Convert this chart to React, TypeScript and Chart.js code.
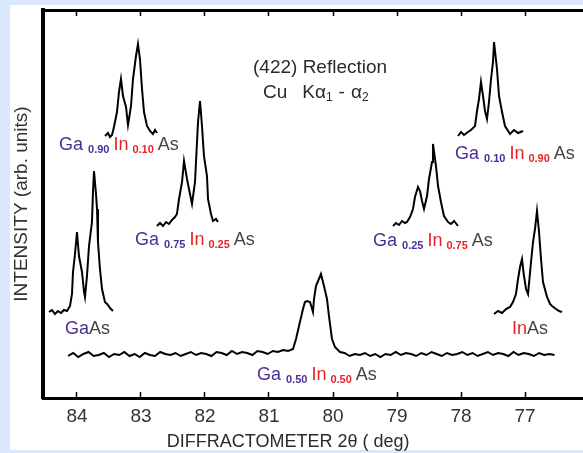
import React, { useEffect, useRef } from "react";
import { Chart, registerables } from "chart.js";

Chart.register(...registerables);

// ---------- data (2θ in degrees, intensity in arbitrary units) ----------
const xTickValues = [84, 83, 82, 81, 80, 79, 78, 77];

const gaAsTheta = [84.437, 84.391, 84.344, 84.297, 84.25, 84.203, 84.156, 84.109, 84.078, 84.062, 84.031, 84.0, 83.969, 83.922, 83.891, 83.875, 83.844, 83.812, 83.766, 83.75, 83.734, 83.703, 83.687, 83.672, 83.641, 83.609, 83.563, 83.516, 83.484, 83.438];
const gaAsCounts = [86, 88, 84, 87, 85, 88, 87, 92, 104, 126, 144, 166, 142, 126, 107, 101, 122, 152, 176, 206, 227, 204, 189, 156, 129, 109, 96, 93, 90, 87];

const ga90Theta = [83.562, 83.516, 83.484, 83.453, 83.422, 83.375, 83.344, 83.313, 83.281, 83.234, 83.203, 83.188, 83.156, 83.125, 83.078, 83.047, 83.016, 82.984, 82.953, 82.906, 82.859, 82.813, 82.781, 82.75];
const ga90Counts = [262, 265, 261, 263, 271, 286, 306, 319, 302, 291, 273, 279, 292, 319, 342, 354, 339, 309, 286, 272, 267, 264, 268, 265];

const ga75Theta = [82.75, 82.703, 82.656, 82.609, 82.563, 82.516, 82.469, 82.438, 82.406, 82.359, 82.328, 82.281, 82.25, 82.203, 82.156, 82.125, 82.109, 82.078, 82.047, 82.016, 81.969, 81.953, 81.906, 81.875, 81.828, 81.797];
const ga75Counts = [172, 175, 172, 176, 174, 178, 181, 184, 199, 216, 237, 219, 209, 194, 216, 256, 276, 297, 272, 242, 222, 199, 184, 177, 179, 176];

const ga50Theta = [
  84.14, 84.06, 83.98, 83.9, 83.82, 83.74, 83.66, 83.58, 83.5, 83.42, 83.34, 83.26, 83.18, 83.1, 83.02, 82.94, 82.86, 82.78, 82.7, 82.62, 82.54, 82.46,
  82.38, 82.3, 82.22, 82.14, 82.06, 81.98, 81.9, 81.82, 81.74, 81.66, 81.58, 81.5, 81.42, 81.34, 81.26, 81.18, 81.1, 81.02, 80.94, 80.86, 80.78, 80.7,
  80.625, 80.578, 80.531, 80.469, 80.438, 80.406, 80.359, 80.313, 80.297, 80.266, 80.188, 80.141, 80.094, 80.063, 80.016, 79.969, 79.891,
  79.82, 79.74, 79.66, 79.58, 79.5, 79.42, 79.34, 79.26, 79.18, 79.1, 79.02, 78.94, 78.86, 78.78, 78.7, 78.62, 78.54, 78.46, 78.38, 78.3, 78.22,
  78.14, 78.06, 77.98, 77.9, 77.82, 77.74, 77.66, 77.58, 77.5, 77.42, 77.34, 77.26, 77.18, 77.1, 77.02, 76.94, 76.86, 76.78, 76.7, 76.62, 76.54,
];
const ga50Counts = [
  42, 45, 41, 44, 46, 42, 43, 45, 41, 44, 43, 46, 42, 44, 41, 45, 43, 42, 46, 44, 43, 45,
  42, 44, 46, 43, 45, 44, 42, 46, 45, 43, 47, 44, 46, 45, 43, 47, 46, 44, 47, 46, 48, 47,
  49, 59, 72, 89, 96, 97, 96, 86, 99, 112, 124, 112, 99, 82, 59, 51, 46,
  45, 42, 44, 43, 45, 42, 44, 41, 44, 43, 46, 43, 45, 44, 42, 45, 43, 46, 44, 42, 45,
  43, 44, 46, 43, 45, 42, 44, 46, 43, 45, 44, 42, 46, 43, 45, 44, 42, 45, 43, 44, 43,
];

const ga25Theta = [79.062, 79.016, 78.969, 78.922, 78.875, 78.844, 78.797, 78.75, 78.719, 78.672, 78.641, 78.609, 78.578, 78.531, 78.5, 78.453, 78.438, 78.391, 78.359, 78.313, 78.266, 78.203, 78.156, 78.109, 78.047];
const ga25Counts = [172, 175, 173, 177, 175, 176, 181, 189, 201, 211, 207, 197, 189, 202, 219, 236, 254, 232, 212, 196, 182, 176, 174, 177, 172];

const ga10Theta = [78.047, 78.0, 77.953, 77.891, 77.844, 77.781, 77.75, 77.719, 77.688, 77.656, 77.625, 77.594, 77.563, 77.531, 77.5, 77.484, 77.438, 77.406, 77.359, 77.313, 77.234, 77.172, 77.109, 77.031];
const ga10Counts = [262, 266, 263, 266, 268, 272, 287, 299, 316, 302, 287, 279, 296, 319, 336, 356, 329, 302, 286, 272, 264, 268, 265, 267];

const inAsTheta = [77.484, 77.422, 77.359, 77.297, 77.234, 77.188, 77.141, 77.109, 77.078, 77.047, 77.016, 76.984, 76.953, 76.906, 76.875, 76.844, 76.813, 76.781, 76.75, 76.719, 76.656, 76.609, 76.578, 76.516, 76.469, 76.422];
const inAsCounts = [84, 87, 85, 89, 91, 96, 104, 119, 131, 139, 122, 109, 104, 136, 156, 169, 187, 166, 139, 116, 101, 94, 92, 89, 87, 86];

const patterns = [
  { theta: gaAsTheta, counts: gaAsCounts },
  { theta: ga90Theta, counts: ga90Counts },
  { theta: ga75Theta, counts: ga75Counts },
  { theta: ga50Theta, counts: ga50Counts },
  { theta: ga25Theta, counts: ga25Counts },
  { theta: ga10Theta, counts: ga10Counts },
  { theta: inAsTheta, counts: inAsCounts },
];

// ---------- styling ----------
const FONT = '"Liberation Sans", Arial, Helvetica, sans-serif';
const GA = "#4b2f96";
const IN = "#e3242b";
const AS = "#444444";
const TEXT = "#2b2b2b";

type Seg = { t: string; c: string; sub?: boolean; dx?: number };

const alloy = (ga: string, inn: string): Seg[] => [
  { t: "Ga", c: GA },
  { t: ga, c: GA, sub: true, dx: 5 },
  { t: "In", c: IN, dx: 4 },
  { t: inn, c: IN, sub: true, dx: 4 },
  { t: "As", c: AS, dx: 4 },
];

const compoundLabels: { theta: number; inten: number; segs: Seg[] }[] = [
  { theta: 84.281, inten: 248, segs: alloy("0.90", "0.10") },
  { theta: 84.188, inten: 64, segs: [{ t: "Ga", c: GA }, { t: "As", c: AS }] },
  { theta: 83.094, inten: 153, segs: alloy("0.75", "0.25") },
  { theta: 81.188, inten: 18, segs: alloy("0.50", "0.50") },
  { theta: 79.375, inten: 152, segs: alloy("0.25", "0.75") },
  { theta: 78.094, inten: 239, segs: alloy("0.10", "0.90") },
  { theta: 77.203, inten: 64, segs: [{ t: "In", c: IN }, { t: "As", c: AS }] },
];

const titleLines: { theta: number; inten: number; segs: Seg[] }[] = [
  { theta: 81.25, inten: 325, segs: [{ t: "(422) Reflection", c: TEXT }] },
  {
    theta: 81.094,
    inten: 300,
    segs: [
      { t: "Cu", c: TEXT },
      { t: "Kα", c: TEXT, dx: 15 },
      { t: "1", c: TEXT, sub: true },
      { t: "-", c: TEXT, dx: 6 },
      { t: "α", c: TEXT, dx: 6 },
      { t: "2", c: TEXT, sub: true },
    ],
  },
];

const xTitle = { text: "DIFFRACTOMETER 2θ ( deg)", theta: 80.7 };

function drawSegs(ctx: CanvasRenderingContext2D, segs: Seg[], x0: number, y0: number, main: number, sub: string) {
  let x = x0;
  for (const s of segs) {
    x += s.dx ?? 0;
    ctx.font = s.sub ? sub : `${main}px ${FONT}`;
    ctx.fillStyle = s.c;
    ctx.fillText(s.t, x, y0 + (s.sub ? 3 : 0));
    x += ctx.measureText(s.t).width;
  }
}

const annotPlugin = {
  id: "annot",
  afterDraw(chart: any) {
    const { ctx } = chart;
    const xs = chart.scales.x;
    const ys = chart.scales.y;
    ctx.save();
    ctx.textBaseline = "alphabetic";
    ctx.textAlign = "left";
    for (const l of compoundLabels) {
      drawSegs(ctx, l.segs, xs.getPixelForValue(l.theta), ys.getPixelForValue(l.inten), 18, `bold 11px ${FONT}`);
    }
    for (const l of titleLines) {
      drawSegs(ctx, l.segs, xs.getPixelForValue(l.theta), ys.getPixelForValue(l.inten), 19, `12px ${FONT}`);
    }
    ctx.font = `18px ${FONT}`;
    ctx.fillStyle = TEXT;
    ctx.textAlign = "center";
    ctx.fillText(xTitle.text, xs.getPixelForValue(xTitle.theta), xs.bottom - 6);
    ctx.restore();
  },
};

const X_MAX = 84.531;
const X_MIN = 76.094;

export default function App() {
  const ref = useRef<HTMLCanvasElement | null>(null);

  useEffect(() => {
    if (!ref.current) return;
    const grid = {
      drawOnChartArea: false,
      drawTicks: true,
      tickLength: -6,
      tickWidth: 1.5,
      tickColor: "#000",
    };
    const chart = new Chart(ref.current, {
      type: "line",
      data: {
        datasets: patterns.map((p) => ({
          data: p.theta.map((t, i) => ({ x: t, y: p.counts[i] })),
          borderColor: "#000",
          borderWidth: 2,
          pointRadius: 0,
          fill: false,
          tension: 0,
        })),
      },
      options: {
        animation: false,
        responsive: false,
        maintainAspectRatio: false,
        layout: { padding: 0 },
        plugins: { legend: { display: false }, tooltip: { enabled: false } },
        scales: {
          x: {
            type: "linear",
            position: "bottom",
            reverse: true,
            min: X_MIN,
            max: X_MAX,
            afterBuildTicks: (s: any) => {
              s.ticks = xTickValues.map((v) => ({ value: v }));
            },
            ticks: { color: "#333", font: { size: 19, family: FONT }, padding: 13, maxRotation: 0, autoSkip: false },
            grid,
            border: { display: true, width: 3, color: "#000" },
            afterFit: (s: any) => {
              s.height = 55;
            },
          },
          x2: {
            type: "linear",
            position: "top",
            reverse: true,
            min: X_MIN,
            max: X_MAX,
            afterBuildTicks: (s: any) => {
              s.ticks = xTickValues.map((v) => ({ value: v }));
            },
            ticks: { display: false },
            grid,
            border: { display: true, width: 3, color: "#000" },
            afterFit: (s: any) => {
              s.height = 10;
            },
          },
          y: {
            type: "linear",
            min: 0,
            max: 388,
            ticks: { display: false },
            grid: { display: false, drawTicks: false },
            border: { display: true, width: 4, color: "#000" },
            title: {
              display: true,
              text: "INTENSITY (arb. units)",
              color: "#333",
              font: { size: 19, family: FONT, weight: "normal" },
              padding: { top: 10, bottom: 0 },
            },
            afterFit: (s: any) => {
              s.width = 43;
            },
          },
        },
      },
      plugins: [annotPlugin],
    } as any);
    return () => chart.destroy();
  }, []);

  return (
    <div style={{ position: "fixed", left: 0, top: 0, width: 583, height: 453, background: "#d9e8fb", overflow: "hidden" }}>
      <div style={{ position: "absolute", left: 10, top: 5, width: 573, height: 445, background: "#ffffff" }} />
      <canvas ref={ref} width={583} height={453} style={{ position: "absolute", left: 0, top: 0, width: 583, height: 453 }} />
    </div>
  );
}
